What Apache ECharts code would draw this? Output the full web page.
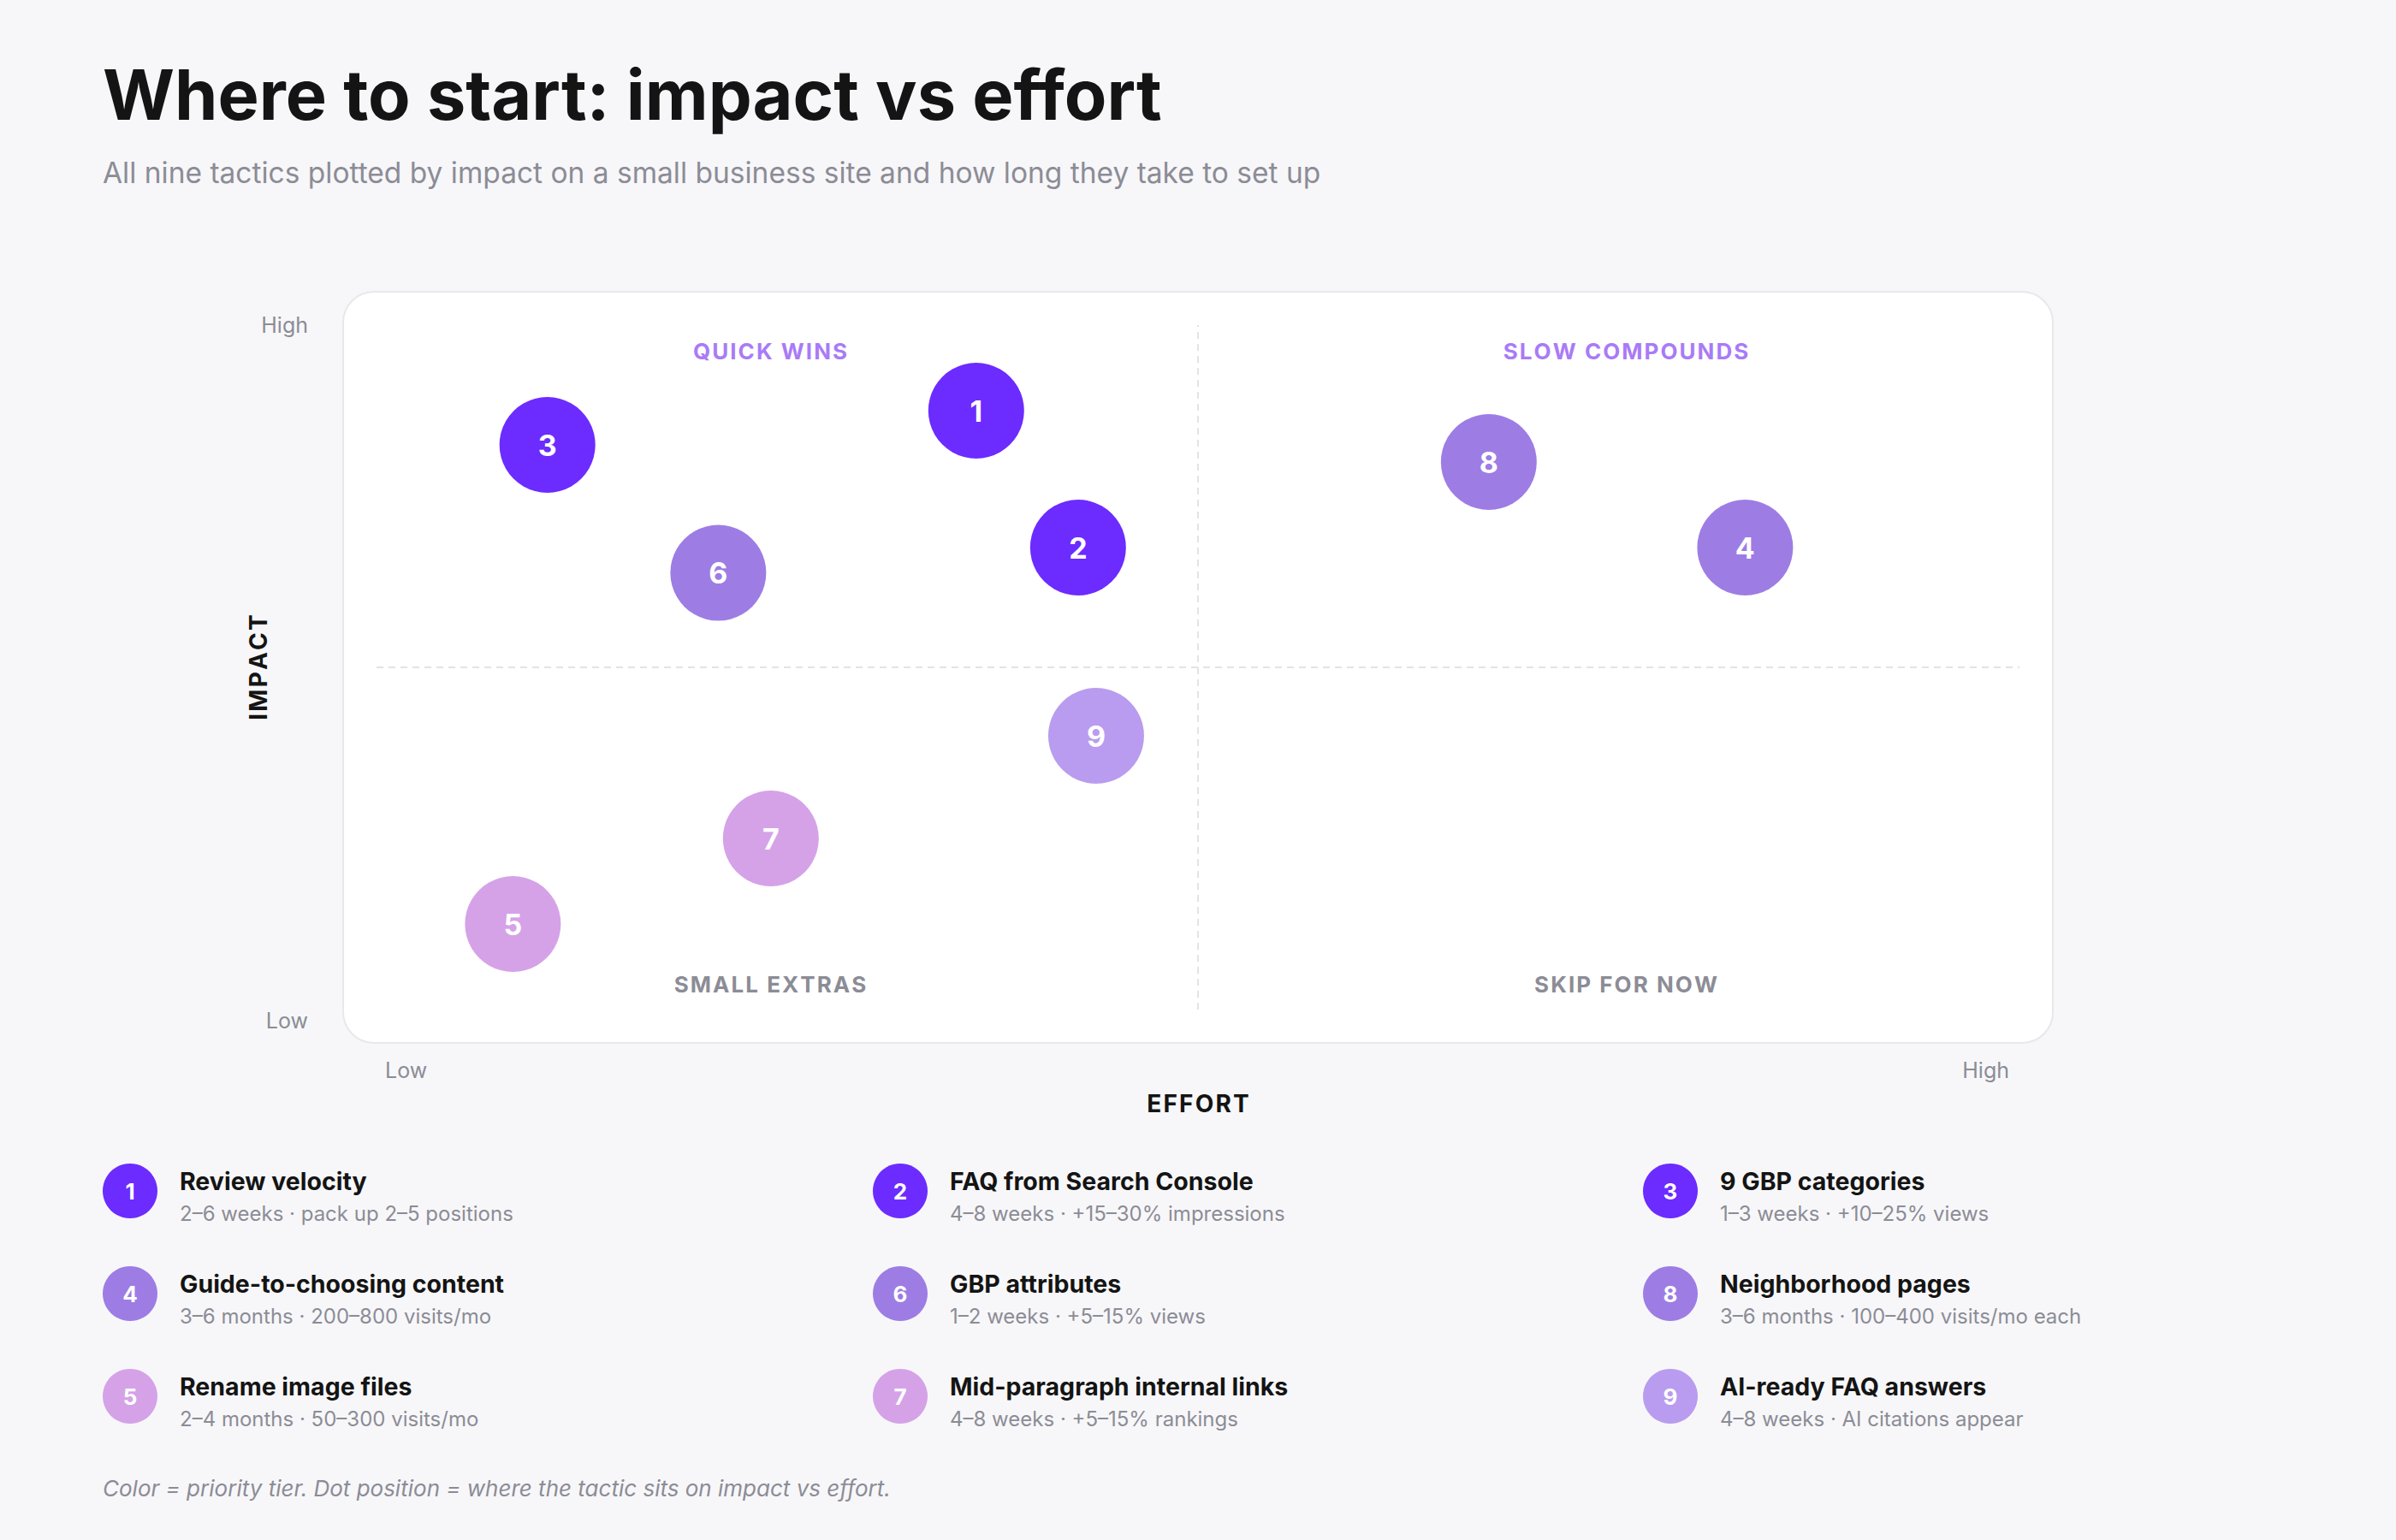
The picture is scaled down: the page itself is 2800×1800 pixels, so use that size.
<!DOCTYPE html>
<html>
<head>
<meta charset="utf-8">
<title>Where to start: impact vs effort</title>
<script src="https://cdn.jsdelivr.net/npm/echarts@6/dist/echarts.min.js"></script>
<style>
  html, body { margin: 0; padding: 0; background: #f7f7f9; }
  #main { width: 2800px; height: 1800px; }
</style>
</head>
<body>
<div id="main"></div>
<script>
// tactics: number, name, note
const ids = [1, 2, 3, 4, 5, 6, 7, 8, 9];
const names = ['Review velocity', 'FAQ from Search Console', '9 GBP categories',
  'Guide-to-choosing content', 'Rename image files', 'GBP attributes',
  'Mid-paragraph internal links', 'Neighborhood pages', 'AI-ready FAQ answers'];
const notes = ['2–6 weeks · pack up 2–5 positions', '4–8 weeks · +15–30% impressions',
  '1–3 weeks · +10–25% views', '3–6 months · 200–800 visits/mo', '2–4 months · 50–300 visits/mo',
  '1–2 weeks · +5–15% views', '4–8 weeks · +5–15% rankings',
  '3–6 months · 100–400 visits/mo each', '4–8 weeks · AI citations appear'];
// where each tactic sits (0 = low, 100 = high)
const effort = [36.5, 42.7, 10.4, 83.3, 8.3, 20.8, 24, 67.7, 43.8];
const impact = [87.5, 67.5, 82.5, 67.5, 12.5, 63.8, 25, 80, 40];
// priority tier of each tactic
const tier = [0, 0, 0, 1, 3, 1, 3, 1, 2];
const tierColors = ['#6c2bff', '#9d7de4', '#b99cef', '#d5a2e8'];
// order used in the key under the chart
const legendOrder = [1, 2, 3, 4, 6, 8, 5, 7, 9];
const quadrants = ['QUICK WINS', 'SLOW COMPOUNDS', 'SMALL EXTRAS', 'SKIP FOR NOW'];
const axisTicks = ['Low', 'High'];

const FONT = 'Inter, "DejaVu Sans", sans-serif';
const GREY = '#8c8c96';

let myChart = echarts.init(document.getElementById('main'), null, { renderer: 'svg' });

// spaced out caps
function spaced(s) { return s.split('').join('\u200A'); }

let graphics = [
  // card behind the plot
  { type: 'rect', z: -10, silent: true,
    shape: { x: 401, y: 341, width: 1998, height: 878, r: 36 },
    style: { fill: '#ffffff', stroke: '#e8e8ec', lineWidth: 2 } },
  { type: 'text', left: 120, top: 70,
    style: { text: 'Where to start: impact vs effort', font: '700 81px ' + FONT, fill: '#141414' } },
  { type: 'text', left: 120, top: 185,
    style: { text: 'All nine tactics plotted by impact on a small business site and how long they take to set up',
      font: '400 33.5px ' + FONT, fill: '#8c8c96' } },
  { type: 'text', left: 120, top: 1726,
    style: { text: 'Color = priority tier. Dot position = where the tactic sits on impact vs effort.',
      font: 'italic 400 26px ' + FONT, fill: '#8c8c96' } }
];

// quadrant captions
const quadPos = [[900, 410], [1900, 410], [900, 1150], [1900, 1150]];
quadrants.forEach((q, k) => {
  graphics.push({ type: 'text', x: quadPos[k][0], y: quadPos[k][1], silent: true,
    style: { text: spaced(q), font: '700 26px ' + FONT, fill: k < 2 ? '#a97bf6' : GREY,
      align: 'center', verticalAlign: 'middle' } });
});

// key below the chart
legendOrder.forEach((id, k) => {
  const i = ids.indexOf(id);
  const cx = 152 + (k % 3) * 900;
  const cy = 1392 + Math.floor(k / 3) * 120;
  graphics.push({ type: 'circle', shape: { cx: cx, cy: cy, r: 32 }, style: { fill: tierColors[tier[i]] } });
  graphics.push({ type: 'text', x: cx, y: cy,
    style: { text: String(id), font: '700 26px ' + FONT, fill: '#fff', align: 'center', verticalAlign: 'middle' } });
  graphics.push({ type: 'text', x: cx + 58, y: cy - 12,
    style: { text: names[i], font: '700 28.5px ' + FONT, fill: '#141414', verticalAlign: 'middle' } });
  graphics.push({ type: 'text', x: cx + 58, y: cy + 26,
    style: { text: notes[i], font: '400 24px ' + FONT, fill: GREY, verticalAlign: 'middle' } });
});

let option = {
  backgroundColor: '#f7f7f9',
  textStyle: { fontFamily: FONT },
  grid: { left: 440, right: 440, top: 380, bottom: 620 },
  xAxis: {
    type: 'value', min: 0, max: 100, interval: 100,
    axisLine: { show: false }, axisTick: { show: false }, splitLine: { show: false },
    axisLabel: { formatter: v => (v === 0 ? axisTicks[0] : axisTicks[1]), color: GREY, fontSize: 25,
      margin: 58, alignMinLabel: 'left', alignMaxLabel: 'right', padding: [0, 12, 0, 10] },
    name: spaced('EFFORT'), nameLocation: 'middle', nameGap: 96, nameMoveOverlap: false,
    nameTextStyle: { fontSize: 28, fontWeight: 700, color: '#141414' }
  },
  yAxis: {
    type: 'value', min: 0, max: 100, interval: 100,
    axisLine: { show: false }, axisTick: { show: false }, splitLine: { show: false },
    axisLabel: { formatter: v => (v === 0 ? axisTicks[0] : axisTicks[1]), color: GREY, fontSize: 25,
      margin: 80, verticalAlignMinLabel: 'top', verticalAlignMaxLabel: 'middle' },
    name: spaced('IMPACT'), nameLocation: 'middle', nameGap: 124, nameRotate: 90, nameMoveOverlap: false,
    nameTextStyle: { fontSize: 28, fontWeight: 700, color: '#141414' }
  },
  graphic: graphics,
  series: [{
    type: 'scatter',
    symbolSize: 112,
    data: ids.map((id, i) => ({ value: [effort[i], impact[i], id],
      itemStyle: { color: tierColors[tier[i]], opacity: 1 } })),
    label: { show: true, position: 'inside', formatter: p => p.value[2],
      color: '#fff', fontSize: 34, fontWeight: 700 },
    emphasis: { disabled: true },
    markLine: {
      silent: true, symbol: 'none', label: { show: false },
      lineStyle: { type: [8, 6], color: '#e3e3e8', width: 2 },
      data: [{ xAxis: 50 }, { yAxis: 50 }]
    }
  }]
};
myChart.setOption(option);
</script>
</body>
</html>
